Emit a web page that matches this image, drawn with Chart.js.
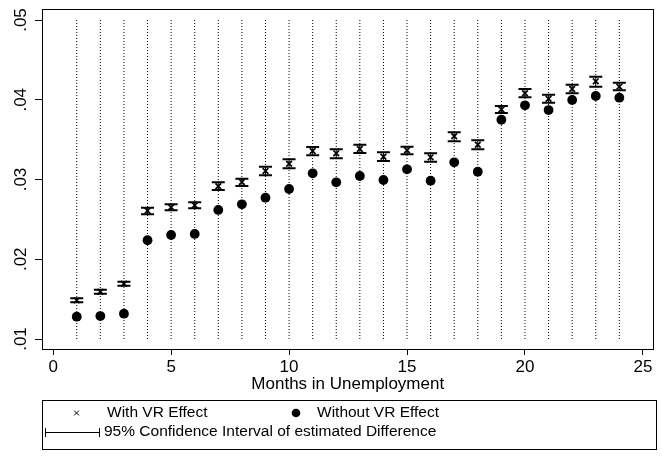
<!DOCTYPE html>
<html>
<head>
<meta charset="utf-8">
<script src="https://cdn.jsdelivr.net/npm/chart.js@4.4.1/dist/chart.umd.min.js"></script>
<style>
  html, body { margin: 0; padding: 0; background: #fff; }
  #wrap { width: 662px; height: 463px; }
</style>
</head>
<body>
<div id="wrap"><canvas id="chart" width="662" height="463"></canvas></div>
<script>
// ── Data ──────────────────────────────────────────────────────────────────────
const months    = [1, 2, 3, 4, 5, 6, 7, 8, 9, 10, 11, 12, 13, 14, 15, 16, 17, 18, 19, 20, 21, 22, 23, 24];
const withVR    = [0.01485, 0.01593, 0.01693, 0.02609, 0.02651, 0.02676, 0.02915, 0.02969, 0.03107, 0.03198, 0.03357, 0.03328,
                   0.03382, 0.03286, 0.03366, 0.03278, 0.03542, 0.03436, 0.03878, 0.04081, 0.04013, 0.04135, 0.04231, 0.04164];
const ciLow     = [0.01460, 0.01568, 0.01668, 0.02564, 0.02614, 0.02639, 0.02868, 0.02918, 0.03053, 0.03140, 0.03303, 0.03266,
                   0.03332, 0.03232, 0.03316, 0.03223, 0.03479, 0.03379, 0.03834, 0.04031, 0.03963, 0.04081, 0.04164, 0.04118];
const ciHigh    = [0.01510, 0.01618, 0.01718, 0.02646, 0.02689, 0.02714, 0.02965, 0.03010, 0.03161, 0.03253, 0.03408, 0.03379,
                   0.03436, 0.03341, 0.03411, 0.03329, 0.03592, 0.03492, 0.03922, 0.04135, 0.04063, 0.04189, 0.04289, 0.04214];
const withoutVR = [0.01280, 0.01288, 0.01317, 0.02238, 0.02304, 0.02317, 0.02618, 0.02689, 0.02772, 0.02881, 0.03078, 0.02965,
                   0.03044, 0.02994, 0.03128, 0.02985, 0.03216, 0.03098, 0.03749, 0.03930, 0.03871, 0.03997, 0.04047, 0.04026];

const xTicks      = [0, 5, 10, 15, 20, 25];
const yTicks      = [0.01, 0.02, 0.03, 0.04, 0.05];
const yTickLabels = ['.01', '.02', '.03', '.04', '.05'];
const refLineFrom = 0.01;
const refLineTo   = 0.05;

const xTitle       = 'Months in Unemployment';
const legendLabels = ['With VR Effect', 'Without VR Effect', '95% Confidence Interval of estimated Difference'];

const FONT = "'Liberation Sans', Arial, sans-serif";
const INK  = '#000';

// vertical segments at each month, separated by gaps
const segments = (lo, hi) => months.flatMap((m, i) => [
  { x: m, y: lo[i] }, { x: m, y: hi[i] }, { x: m, y: null }
]);
const points = vals => months.map((m, i) => ({ x: m, y: vals[i] }));

// ── Plugins ───────────────────────────────────────────────────────────────────
const framePlugin = {
  id: 'frame',
  afterDraw(chart) {
    const { ctx, chartArea: a } = chart;
    ctx.save();
    ctx.strokeStyle = INK;
    ctx.lineWidth = 1;
    ctx.strokeRect(Math.round(a.left) + 0.5, Math.round(a.top) + 0.5,
                   Math.round(a.right - a.left) - 1, Math.round(a.bottom - a.top) - 1);
    ctx.restore();
  }
};

const yLabelsPlugin = {
  id: 'yLabels',
  afterDraw(chart) {
    const { ctx } = chart;
    const y = chart.scales.y;
    ctx.save();
    ctx.fillStyle = INK;
    ctx.font = `17px ${FONT}`;
    ctx.textAlign = 'center';
    ctx.textBaseline = 'middle';
    yTicks.forEach((v, i) => {
      ctx.save();
      ctx.translate(21, y.getPixelForValue(v));
      ctx.rotate(-Math.PI / 2);
      ctx.fillText(yTickLabels[i], 0, 0);
      ctx.restore();
    });
    ctx.restore();
  }
};

const legendPlugin = {
  id: 'stataLegend',
  afterDraw(chart) {
    const { ctx, chartArea: a } = chart;
    ctx.save();
    ctx.fillStyle = INK;
    ctx.strokeStyle = INK;
    ctx.textBaseline = 'middle';

    // axis title
    ctx.font = `17px ${FONT}`;
    ctx.textAlign = 'center';
    ctx.fillText(xTitle, (a.left + a.right) / 2, 384);

    // legend box
    ctx.lineWidth = 1;
    ctx.strokeRect(42.5, 400.5, 614, 49);

    ctx.font = `15.5px ${FONT}`;
    ctx.textAlign = 'left';
    Chart.helpers.drawPoint(ctx, { pointStyle: 'crossRot', radius: 3.4, rotation: 0, borderWidth: 1.4 }, 76.5, 413);
    ctx.fillText(legendLabels[0], 107, 413);
    Chart.helpers.drawPoint(ctx, { pointStyle: 'circle', radius: 4.3, rotation: 0, borderWidth: 0 }, 296, 413);
    ctx.fillText(legendLabels[1], 317, 413);

    // CI symbol
    ctx.lineWidth = 1;
    ctx.beginPath();
    ctx.moveTo(45, 432.5); ctx.lineTo(100, 432.5);
    ctx.moveTo(45.5, 428); ctx.lineTo(45.5, 437);
    ctx.moveTo(99.5, 428); ctx.lineTo(99.5, 437);
    ctx.stroke();
    ctx.fillText(legendLabels[2], 104, 432);
    ctx.restore();
  }
};

// ── Chart ─────────────────────────────────────────────────────────────────────
new Chart(document.getElementById('chart'), {
  type: 'scatter',
  data: {
    datasets: [
      {
        label: legendLabels[1],
        data: points(withoutVR),
        pointStyle: 'circle', pointRadius: 4.9,
        backgroundColor: INK, borderColor: INK, borderWidth: 0,
        order: 0
      },
      {
        label: legendLabels[0],
        data: points(withVR),
        pointStyle: 'crossRot', pointRadius: 4,
        borderColor: INK, borderWidth: 1.7,
        order: 1
      },
      {
        label: 'CI caps',
        data: [...points(ciLow), ...points(ciHigh)],
        pointStyle: 'line', pointRadius: 6.5,
        borderColor: INK, borderWidth: 2,
        order: 2
      },
      {
        label: 'CI',
        data: segments(ciLow, ciHigh),
        showLine: true, spanGaps: false, pointRadius: 0,
        borderColor: INK, borderWidth: 1,
        order: 3
      },
      {
        label: 'months',
        data: segments(months.map(() => refLineFrom), months.map(() => refLineTo)),
        showLine: true, spanGaps: false, pointRadius: 0,
        borderColor: INK, borderWidth: 1, borderDash: [1, 2],
        order: 4
      }
    ]
  },
  options: {
    responsive: false,
    animation: false,
    layout: { padding: { top: 9, right: 1, left: 0, bottom: 0 } },
    plugins: { legend: { display: false }, tooltip: { enabled: false } },
    scales: {
      x: {
        type: 'linear',
        min: -0.473, max: 25.448,
        afterBuildTicks: s => { s.ticks = xTicks.map(v => ({ value: v })); },
        afterFit: s => { s.height = 113; },
        grid: { drawOnChartArea: false, drawTicks: true, tickLength: 5, color: INK },
        border: { display: false },
        ticks: { color: INK, padding: 2, maxRotation: 0, font: { family: FONT, size: 17 } }
      },
      y: {
        type: 'linear',
        min: 0.008621, max: 0.05138,
        afterBuildTicks: s => { s.ticks = yTicks.map(v => ({ value: v })); },
        afterFit: s => { s.width = 42; },
        grid: { drawOnChartArea: false, drawTicks: true, tickLength: 7, color: INK },
        border: { display: false },
        ticks: { display: false }
      }
    }
  },
  plugins: [framePlugin, yLabelsPlugin, legendPlugin]
});
</script>
</body>
</html>
